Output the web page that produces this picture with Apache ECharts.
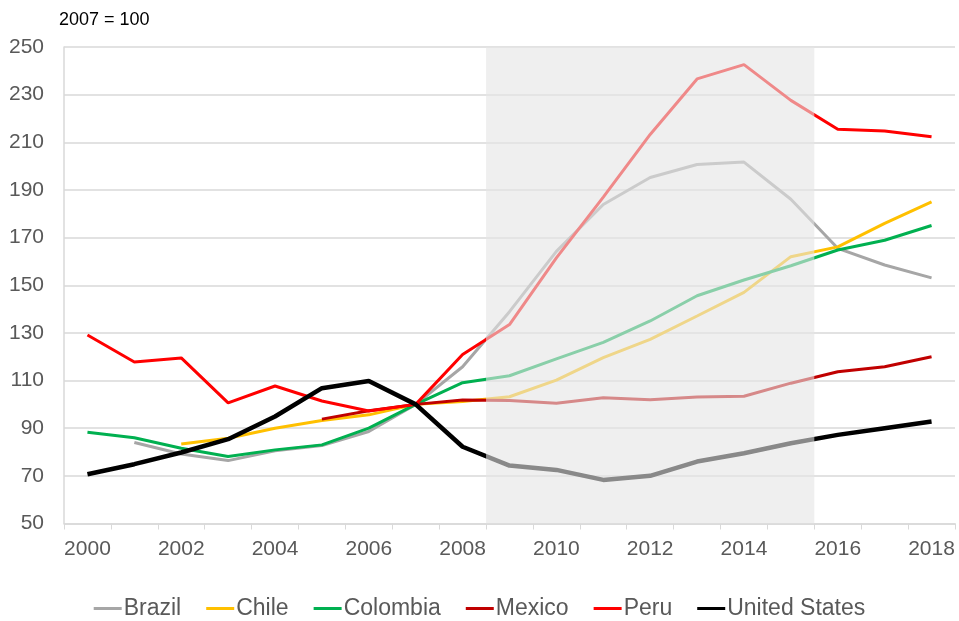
<!DOCTYPE html>
<html>
<head>
<meta charset="utf-8">
<script src="https://cdn.jsdelivr.net/npm/echarts@6/dist/echarts.min.js"></script>
<style>
    html, body { margin: 0; padding: 0; background: #fff; }
    #chart { width: 959px; height: 621px; }
</style>
</head>
<body>
<div id="chart"></div>
<script type="text/javascript">
    // 2007 = 100
    var years = ["2000","2001","2002","2003","2004","2005","2006","2007","2008","2009",
                 "2010","2011","2012","2013","2014","2015","2016","2017","2018"];

    var brazil   = [null, 84.0, 79.2, 76.4, 80.5, 82.7, 88.6, 100, 115.8, 138.9, 164.2, 183.9, 195.2, 200.7, 201.7, 186.1, 165.5, 158.5, 153.1];
    var chile    = [null, null, 83.4, 85.8, 90.0, 93.2, 95.6, 100, 101.2, 103.2, 110.2, 119.6, 127.3, 137.1, 147.0, 162.0, 166.1, 176.0, 185.0];
    var colombia = [88.3, 86.0, 81.6, 78.1, 80.9, 83.0, 90.0, 100, 109.1, 112.0, 119.1, 126.0, 135.0, 145.6, 152.2, 158.2, 164.8, 168.9, 175.1];
    var mexico   = [null, null, null, null, null, 93.8, 97.3, 100, 101.8, 101.6, 100.5, 102.8, 101.9, 103.1, 103.4, 108.9, 113.7, 115.8, 120.0];
    var peru     = [129.1, 117.8, 119.5, 100.6, 107.7, 101.4, 97.2, 100, 120.9, 133.5, 161.5, 187.0, 213.3, 236.6, 242.6, 227.6, 215.5, 214.7, 212.3];
    var usa      = [70.7, 74.9, 79.8, 85.4, 94.9, 106.8, 109.8, 100, 82.2, 74.3, 72.5, 68.3, 70.0, 76.0, 79.5, 83.7, 87.2, 90.0, 92.8];

    // shaded period, as category boundaries (start of 2009 .. start of 2016)
    var shadeFrom = 9;
    var shadeTo = 16;

    var names  = ["Brazil", "Chile", "Colombia", "Mexico", "Peru", "United States"];
    var colors = ["#a6a6a6", "#ffc000", "#00b050", "#c00000", "#ff0000", "#000000"];
    var values = [brazil, chile, colombia, mexico, peru, usa];

    var myChart = echarts.init(document.getElementById('chart'));

    var series = [];
    for (var i = 0; i < names.length; i++) {
        series.push({
            name: names[i],
            type: "line",
            data: values[i],
            showSymbol: false,
            symbol: "none",
            z: 2,
            lineStyle: { color: colors[i], width: names[i] == "United States" ? 4.5 : 3 },
            itemStyle: { color: colors[i] }
        });
    }
    // translucent panel laid over the lines
    series.push({
        name: "shade",
        type: "line",
        xAxisIndex: 1,
        data: [],
        z: 10,
        markArea: {
            silent: true,
            z: 10,
            itemStyle: { color: "rgba(228,228,228,0.6)" },
            data: [[{ xAxis: shadeFrom }, { xAxis: shadeTo }]]
        }
    });

    myChart.setOption({
        animation: false,
        title: {
            text: "2007 = 100",
            left: 54,
            top: 6,
            textStyle: {
                color: "#000",
                fontSize: 18,
                fontWeight: "normal",
                fontFamily: "Liberation Sans"
            }
        },
        legend: {
            data: names,
            left: "center",
            top: 592,
            icon: "rect",
            itemWidth: 28,
            itemHeight: 3,
            itemGap: 25,
            selectedMode: false,
            textStyle: {
                color: "#595959",
                fontSize: 23,
                fontFamily: "Liberation Sans",
                padding: [0, 0, 0, -3]
            }
        },
        grid: {
            left: 64,
            right: 4,
            top: 47,
            bottom: 97.5,
            containLabel: false
        },
        xAxis: [
            {
                type: "category",
                boundaryGap: true,
                data: years,
                axisLine: { lineStyle: { color: "#d9d9d9", width: 1.5 } },
                axisTick: { show: true, interval: 0, length: 6, lineStyle: { color: "#d9d9d9" } },
                axisLabel: {
                    interval: 1,
                    color: "#595959",
                    fontSize: 21,
                    fontFamily: "Liberation Sans",
                    margin: 15
                },
                splitLine: { show: false }
            },
            {
                type: "value",
                min: 0,
                max: years.length,
                show: false
            }
        ],
        yAxis: {
            type: "value",
            min: 50,
            max: 250,
            interval: 20,
            axisLine: { show: true, lineStyle: { color: "#d9d9d9", width: 1.5 } },
            axisTick: { show: false },
            axisLabel: {
                color: "#595959",
                fontSize: 21,
                fontFamily: "Liberation Sans",
                margin: 20
            },
            splitLine: { lineStyle: { color: "#d9d9d9", width: 1.5 } }
        },
        series: series
    });
</script>
</body>
</html>
